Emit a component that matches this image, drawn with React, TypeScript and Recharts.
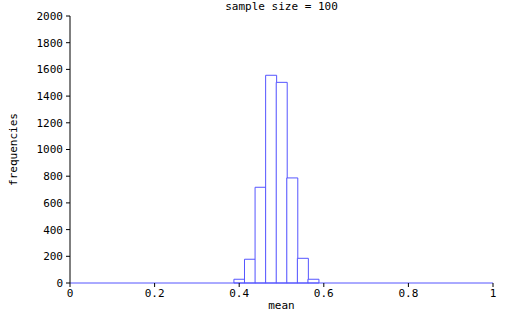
import { ComposedChart, Bar, XAxis, YAxis } from 'recharts';

// histogram of sample means, bin width 0.025
const binCenters = [0.4, 0.425, 0.45, 0.475, 0.5, 0.525, 0.55, 0.575];
const counts = [28, 178, 717, 1556, 1503, 787, 185, 28];
const xTicks = [0, 0.2, 0.4, 0.6, 0.8, 1];
const yTicks = [0, 200, 400, 600, 800, 1000, 1200, 1400, 1600, 1800, 2000];

const data = binCenters.map((mean, i) => ({ mean, count: counts[i] }));

const BLUE = '#5555ff';
const font = { fontFamily: 'DejaVu Sans Mono', fontSize: 11, fill: '#000' };

export default function App() {
  return (
    <div style={{ position: 'absolute', left: 0, top: 0, width: 512, height: 312, background: '#fff' }}>
      <div
        style={{
          position: 'absolute',
          left: 70,
          width: 423,
          top: 0,
          textAlign: 'center',
          fontFamily: 'DejaVu Sans Mono',
          fontSize: 11,
          lineHeight: '13px',
          color: '#000',
        }}
      >
        sample size = 100
      </div>
      <ComposedChart width={512} height={312} data={data} margin={{ top: 16, right: 19, bottom: 0, left: 0 }} barCategoryGap={0}>
        <XAxis
          dataKey="mean"
          type="number"
          domain={[0, 1]}
          ticks={xTicks}
          height={29}
          tickSize={4}
          tickMargin={2}
          tick={font}
          tickLine={{ stroke: '#000' }}
          axisLine={{ stroke: BLUE }}
          label={{ value: 'mean', position: 'insideBottom', offset: 3, style: font }}
        />
        <XAxis xAxisId="top" orientation="top" type="number" domain={[0, 1]} height={0} tick={false} tickLine={false} axisLine={{ stroke: '#000' }} />
        <YAxis
          domain={[0, 2000]}
          ticks={yTicks}
          width={70}
          tickSize={4}
          tickMargin={3}
          tick={font}
          tickLine={{ stroke: '#000' }}
          axisLine={{ stroke: '#000' }}
          label={{ value: 'frequencies', angle: -90, position: 'insideLeft', offset: 13, style: { ...font, textAnchor: 'middle' } }}
        />
        <YAxis yAxisId="right" orientation="right" width={0} domain={[0, 2000]} tick={false} tickLine={false} axisLine={{ stroke: '#000' }} />
        <Bar dataKey="count" fill="#fff" stroke={BLUE} strokeWidth={1} isAnimationActive={false} />
      </ComposedChart>
    </div>
  );
}
